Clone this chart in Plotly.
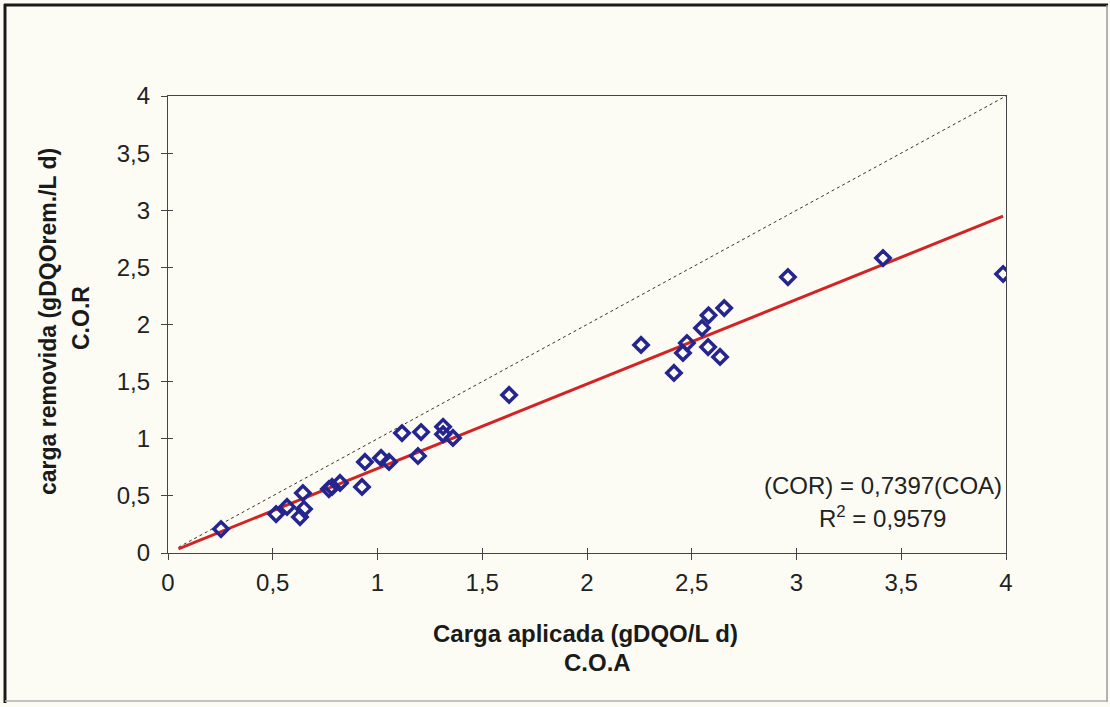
import plotly.graph_objects as go

# Data
coa = [0.253, 0.516, 0.568, 0.644, 0.630, 0.649, 0.768, 0.783, 0.821, 0.926,
       0.940, 1.017, 1.055, 1.117, 1.193, 1.208, 1.313, 1.313, 1.360, 1.628,
       2.258, 2.415, 2.458, 2.477, 2.549, 2.580, 2.578, 2.635, 2.655, 2.959,
       3.413, 3.986]
cor = [0.210, 0.341, 0.403, 0.525, 0.315, 0.385, 0.560, 0.578, 0.613, 0.578,
       0.797, 0.832, 0.797, 1.050, 0.849, 1.059, 1.105, 1.040, 1.007, 1.383,
       1.821, 1.576, 1.751, 1.838, 1.969, 2.080, 1.803, 1.716, 2.144, 2.415,
       2.582, 2.442]
slope = 0.7397
r2 = 0.9579
trend_x = [0.05, 3.986]
trend_y = [slope * v for v in trend_x]
ref_x = [0.05, 4.0]
ref_y = [0.05, 4.0]
tick_vals = [0, 0.5, 1, 1.5, 2, 2.5, 3, 3.5, 4]
tick_text = ["0", "0,5", "1", "1,5", "2", "2,5", "3", "3,5", "4"]

W, H = 1110, 707
L, R, T, B = 168, 1006, 96, 553


def px(x):
    return (x - L) / (R - L)


def py(y):
    return (B - y) / (B - T)


FONT = "Liberation Sans, Arial, sans-serif"
BG = "#fcfcf4"

fig = go.Figure()
fig.add_trace(go.Scatter(x=ref_x, y=ref_y, mode="lines",
                         line=dict(color="#333333", width=1, dash="dot"),
                         hoverinfo="skip", showlegend=False))
fig.add_trace(go.Scatter(x=trend_x, y=trend_y, mode="lines",
                         line=dict(color="#d22424", width=3),
                         hoverinfo="skip", showlegend=False))
fig.add_trace(go.Scatter(x=coa, y=cor, mode="markers",
                         marker=dict(symbol="diamond-open", size=11,
                                     color="#25258f",
                                     line=dict(width=3.5, color="#25258f")),
                         showlegend=False))

axis_common = dict(range=[0, 4], tickvals=tick_vals, ticktext=tick_text,
                   showgrid=False, zeroline=False, showline=True,
                   linecolor="#444444", linewidth=1.2, mirror=True,
                   ticks="outside", ticklen=6, tickcolor="#444444",
                   tickfont=dict(family=FONT, size=24, color="#222222"))
fig.update_xaxes(**axis_common)
fig.update_yaxes(**axis_common)

fig.update_layout(
    width=W, height=H,
    margin=dict(l=L, r=W - R, t=T, b=H - B),
    paper_bgcolor=BG, plot_bgcolor=BG,
    separators=",.",
    font=dict(family=FONT, color="#222222"),
)

fig.layout.xaxis.ticklabelstandoff = 2
fig.layout.yaxis.ticklabelstandoff = 6

# inside tick halves (crossing ticks)
fig.update_layout(
    xaxis2=dict(overlaying="x", matches="x", range=[0, 4], tickvals=tick_vals,
                showticklabels=False, ticks="inside", ticklen=5,
                tickcolor="#444444", showgrid=False, zeroline=False,
                showline=False),
    yaxis2=dict(overlaying="y", matches="y", range=[0, 4], tickvals=tick_vals,
                showticklabels=False, ticks="inside", ticklen=5,
                tickcolor="#444444", showgrid=False, zeroline=False,
                showline=False),
)
fig.add_trace(go.Scatter(x=[0], y=[0], xaxis="x2", yaxis="y2", mode="markers",
                         marker=dict(opacity=0), showlegend=False,
                         hoverinfo="skip"))

# axis titles
title_font = dict(family=FONT, size=24, color="#1a1a1a")
fig.add_annotation(x=px(585), y=py(633), xref="paper", yref="paper",
                   text="<b>Carga aplicada (gDQO/L d)</b>", showarrow=False,
                   font=title_font, xanchor="center", yanchor="middle")
fig.add_annotation(x=px(597), y=py(662), xref="paper", yref="paper",
                   text="<b>C.O.A</b>", showarrow=False,
                   font=title_font, xanchor="center", yanchor="middle")
ytitle_font = dict(family=FONT, size=23, color="#1a1a1a")
fig.add_annotation(x=px(48), y=py(322), xref="paper", yref="paper",
                   text="<b>carga removida (gDQOrem./L d)</b>", showarrow=False,
                   font=ytitle_font, textangle=-90,
                   xanchor="center", yanchor="middle")
fig.add_annotation(x=px(81), y=py(318), xref="paper", yref="paper",
                   text="<b>C.O.R</b>", showarrow=False,
                   font=ytitle_font, textangle=-90,
                   xanchor="center", yanchor="middle")

# regression equation
eq_font = dict(family=FONT, size=24, color="#222222")
fig.add_annotation(x=px(1004), y=py(485), xref="paper", yref="paper",
                   text="(COR) = " + f"{slope:.4f}".replace(".", ",") + "(COA)",
                   showarrow=False, font=eq_font,
                   xanchor="right", yanchor="middle")
fig.add_annotation(x=px(882), y=py(517), xref="paper", yref="paper",
                   text="R<sup>2</sup> = " + f"{r2:.4f}".replace(".", ","),
                   showarrow=False, font=eq_font,
                   xanchor="center", yanchor="middle")

# outer frame
fig.add_shape(type="line", xref="paper", yref="paper",
              x0=px(5), x1=px(5), y0=py(4), y1=py(703),
              line=dict(color="#1a1a1a", width=3))
fig.add_shape(type="line", xref="paper", yref="paper",
              x0=px(4), x1=px(1108), y0=py(5), y1=py(5),
              line=dict(color="#1a1a1a", width=3))
fig.add_shape(type="line", xref="paper", yref="paper",
              x0=px(1107), x1=px(1107), y0=py(5), y1=py(702),
              line=dict(color="#9a9a9a", width=1.5))
fig.add_shape(type="line", xref="paper", yref="paper",
              x0=px(5), x1=px(1107), y0=py(701), y1=py(701),
              line=dict(color="#b0b0b0", width=1.5))

fig.write_html("out.html")
